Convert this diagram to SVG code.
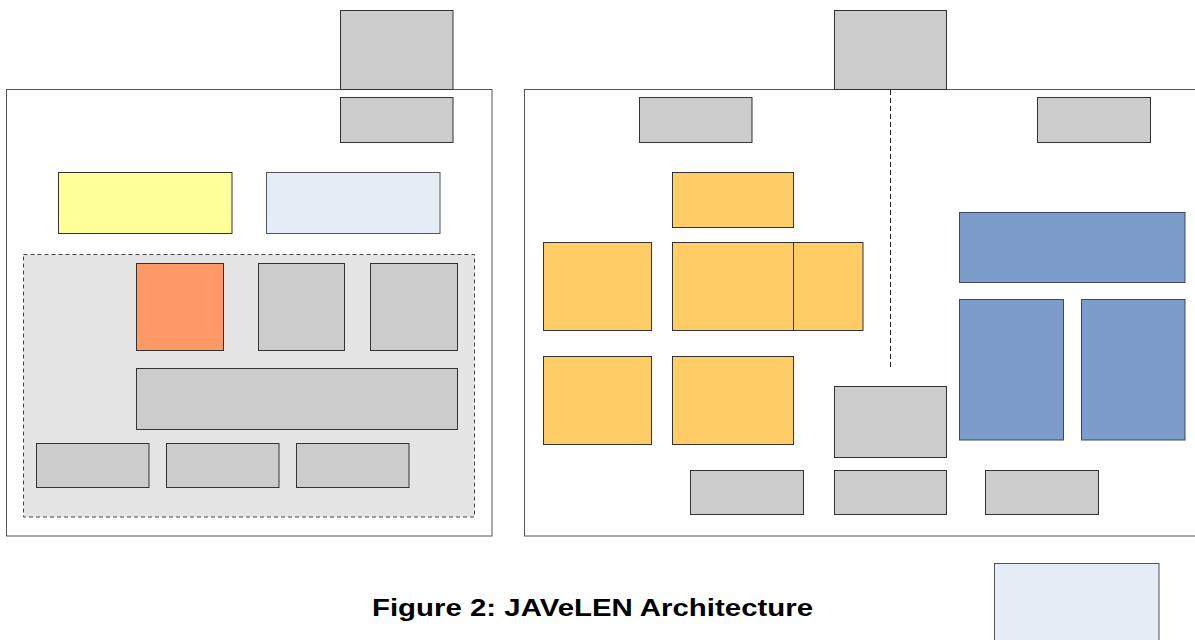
<svg xmlns="http://www.w3.org/2000/svg" width="1195" height="640" viewBox="0 0 1195 640">
  <style>
    rect { stroke: #333333; stroke-width: 1; }
    .panel { fill: #ffffff; stroke: #555555; }
    .grey { fill: #cccccc; }
    .yellow { fill: #ffff99; }
    .pale { fill: #e5ecf6; stroke: #555555; }
    .orange { fill: #ff9966; }
    .gold { fill: #ffcc66; }
    .blue { fill: #7c9ccc; stroke: #3a4a66; }
    .zone { fill: #e5e5e5; stroke: #444444; stroke-dasharray: 4 3; }
    .divider { stroke: #222222; stroke-width: 1; stroke-dasharray: 5 3; fill: none; }
    .caption { font-family: "Liberation Sans", Arial, sans-serif; font-weight: bold; font-size: 24px; fill: #000000; }
  </style>

  <!-- left panel -->
  <g id="left-panel">
    <rect class="panel" x="6.5" y="89.5" width="485.5" height="446.5"/>
  </g>
  <g id="left-top">
    <rect class="grey" x="340.5" y="10.5" width="112.5" height="79"/>
  </g>
  <g id="left-head">
    <rect class="grey" x="340.5" y="97.5" width="112.5" height="45"/>
  </g>
  <g id="left-yellow">
    <rect class="yellow" x="58.5" y="172.5" width="173.5" height="61"/>
  </g>
  <g id="left-pale">
    <rect class="pale" x="266.5" y="172.5" width="173.5" height="61"/>
  </g>
  <g id="left-zone">
    <rect class="zone" x="23.5" y="254.5" width="451" height="262.5"/>
  </g>
  <g id="left-orange">
    <rect class="orange" x="136.5" y="263.5" width="87" height="87"/>
  </g>
  <g id="left-grey-a">
    <rect class="grey" x="258.5" y="263.5" width="86" height="87"/>
  </g>
  <g id="left-grey-b">
    <rect class="grey" x="370.5" y="263.5" width="87" height="87"/>
  </g>
  <g id="left-wide">
    <rect class="grey" x="136.5" y="368.5" width="321" height="61"/>
  </g>
  <g id="left-low-1">
    <rect class="grey" x="36.5" y="443.5" width="112.5" height="44"/>
  </g>
  <g id="left-low-2">
    <rect class="grey" x="166.5" y="443.5" width="112.5" height="44"/>
  </g>
  <g id="left-low-3">
    <rect class="grey" x="296.5" y="443.5" width="112.5" height="44"/>
  </g>

  <!-- right panel -->
  <g id="right-panel">
    <rect class="panel" x="524.5" y="89.5" width="700" height="446.5"/>
  </g>
  <g id="right-top">
    <rect class="grey" x="834.5" y="10.5" width="112" height="79"/>
  </g>
  <g id="connectors">
    <line class="divider" x1="890.5" y1="90" x2="890.5" y2="370"/>
  </g>
  <g id="right-head-1">
    <rect class="grey" x="639.5" y="97.5" width="112.5" height="45"/>
  </g>
  <g id="right-head-2">
    <rect class="grey" x="1037.5" y="97.5" width="113" height="45"/>
  </g>
  <g id="gold-top">
    <rect class="gold" x="672.5" y="172.5" width="121" height="55"/>
  </g>
  <g id="gold-1">
    <rect class="gold" x="543.5" y="242.5" width="108" height="88"/>
  </g>
  <g id="gold-2">
    <rect class="gold" x="672.5" y="242.5" width="121" height="88"/>
  </g>
  <g id="gold-3">
    <rect class="gold" x="793.5" y="242.5" width="69.5" height="88"/>
  </g>
  <g id="gold-4">
    <rect class="gold" x="543.5" y="356.5" width="108" height="88"/>
  </g>
  <g id="gold-5">
    <rect class="gold" x="672.5" y="356.5" width="121" height="88"/>
  </g>
  <g id="right-mid">
    <rect class="grey" x="834.5" y="386.5" width="112" height="71"/>
  </g>
  <g id="blue-top">
    <rect class="blue" x="959.5" y="212.5" width="225.5" height="70"/>
  </g>
  <g id="blue-left">
    <rect class="blue" x="959.5" y="299.5" width="104" height="140.5"/>
  </g>
  <g id="blue-right">
    <rect class="blue" x="1081.5" y="299.5" width="103.5" height="140.5"/>
  </g>
  <g id="right-low-1">
    <rect class="grey" x="690.5" y="470.5" width="113" height="44"/>
  </g>
  <g id="right-low-2">
    <rect class="grey" x="834.5" y="470.5" width="112" height="44"/>
  </g>
  <g id="right-low-3">
    <rect class="grey" x="985.5" y="470.5" width="113" height="44"/>
  </g>
  <g id="corner-pale">
    <rect class="pale" x="994.5" y="563.5" width="164.5" height="100"/>
  </g>

  <!-- caption -->
  <text class="caption" x="372" y="615.5" textLength="441" lengthAdjust="spacingAndGlyphs">Figure 2: JAVeLEN Architecture</text>
</svg>
